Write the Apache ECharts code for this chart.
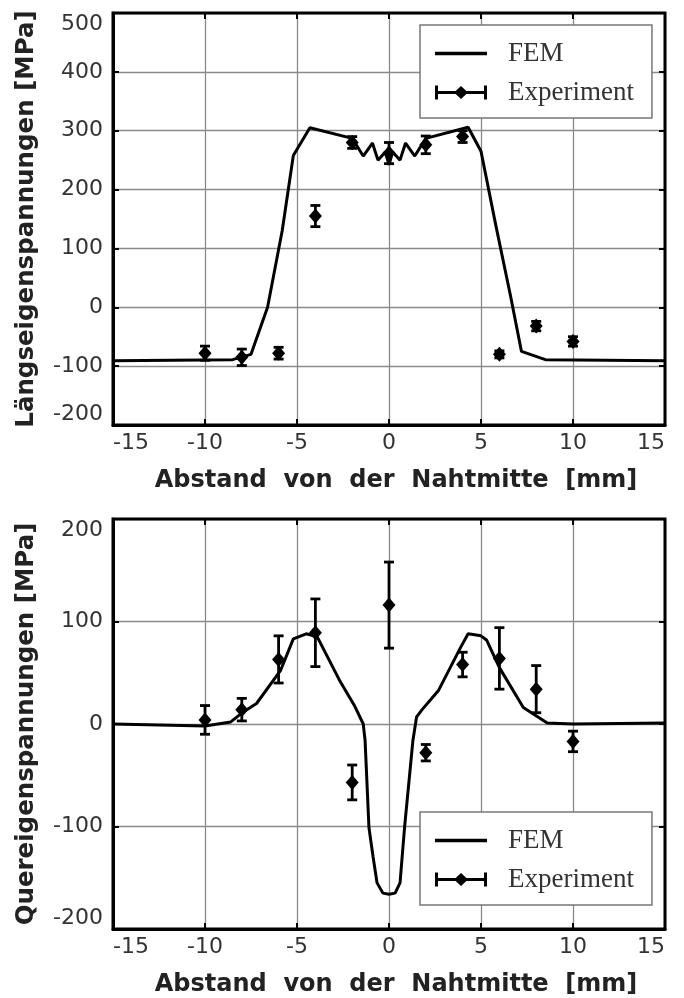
<!DOCTYPE html>
<html>
<head>
<meta charset="utf-8">
<script src="https://cdn.jsdelivr.net/npm/echarts@6/dist/echarts.min.js"></script>
<style>
	html, body { margin: 0; padding: 0; background: #fff; }
	#chart { width: 684px; height: 998px; }
</style>
</head>
<body>
<div id="chart"></div>
<script>
// FEM Längsspannungen
let femTopX = [-15, -8.5, -7.5, -6.6, -5.8, -5.2, -4.3, -2.0, -1.4, -0.9, -0.6, -0.2, 0, 0.2, 0.6, 0.9, 1.4, 2.0, 4.3, 5.0, 5.8, 6.6, 7.2, 8.5, 15];
let femTopY = [-91, -89, -80, 0, 131, 258, 305, 287, 257, 279, 250, 264, 242, 264, 250, 279, 257, 287, 306, 265, 140, 20, -75, -89, -91];

// Messwerte Längsspannungen
let expTopX = [-10, -8, -6, -4, -2, 0, 2, 4, 6, 8, 10];
let expTopY = [-78, -85, -78, 155, 280, 262, 276, 290, -80, -32, -58];
let expTopErr = [12, 14, 10, 18, 10, 18, 15, 10, 6, 8, 8];

// FEM Querspannungen
let femBotX = [-15, -10, -8.6, -7.9, -7.2, -5.9, -5.2, -4.5, -3.9, -2.7, -1.85, -1.4, -1.3, -1.09, -0.87, -0.65, -0.33, 0, 0.33, 0.6, 0.85, 1.3, 1.5, 1.8, 2.7, 3.9, 4.3, 5.0, 5.3, 6.0, 7.3, 8.6, 10, 15];
let femBotY = [0, -2, 2, 12, 20, 52, 83, 88, 85, 43, 17, 0, -16, -101, -129, -155, -165, -166, -165, -155, -100, -16, 7, 14, 33, 75, 88, 86, 82, 55, 16, 1, 0, 1];

// Messwerte Querspannungen
let expBotX = [-10, -8, -6, -4, -2, 0, 2, 4, 6, 8, 10];
let expBotY = [4, 14, 63, 89, -57, 116, -28, 58, 64, 34, -17];
let expBotErr = [14, 11, 23, 33, 17, 42, 8, 12, 30, 23, 10];

let chart = echarts.init(document.getElementById("chart"));

let labelFont = "DejaVu Sans";
let iconFem = "path://M0,0 L0.01,0 M0,5.3 L52,5.3 L52,8.7 L0,8.7 Z M52,14 L51.99,14";
let iconExp = "path://M0,0 L3,0 L3,14 L0,14 Z M49,0 L52,0 L52,14 L49,14 Z M0,5.5 L52,5.5 L52,8.5 L0,8.5 Z M26,0.5 L33,7 L26,13.5 L19,7 Z";

function pairs(xs, ys) {
	return xs.map(function(x, i) { return [x, ys[i]]; });
}
function bars(xs, ys, es) {
	return xs.map(function(x, i) { return [x, ys[i] - es[i], ys[i] + es[i]]; });
}

function errorBar(params, api) {
	let x = api.value(0);
	let lo = api.coord([x, api.value(1)]);
	let hi = api.coord([x, api.value(2)]);
	let w = 5;
	let st = { stroke: "#000", lineWidth: 2.8 };
	return {
		type: "group",
		children: [
			{ type: "line", shape: { x1: lo[0], y1: lo[1], x2: hi[0], y2: hi[1] }, style: st },
			{ type: "line", shape: { x1: lo[0] - w, y1: lo[1], x2: lo[0] + w, y2: lo[1] }, style: st },
			{ type: "line", shape: { x1: hi[0] - w, y1: hi[1], x2: hi[0] + w, y2: hi[1] }, style: st }
		]
	};
}

let tickStyle = { inside: true, length: 6, lineStyle: { color: "#000", width: 2 } };
let gridLine = { show: true, lineStyle: { color: "#8a8a8a", width: 1.3 } };

function xAxisFor(idx) {
	return {
		type: "value", gridIndex: idx, min: -15, max: 15, interval: 5,
		name: "Abstand  von  der  Nahtmitte  [mm]",
		nameLocation: "middle", nameGap: 44,
		nameTextStyle: { fontFamily: labelFont, fontWeight: "bold", fontSize: 24, color: "#222", padding: [0, 0, 0, 14] },
		axisLine: { onZero: false, lineStyle: { color: "#000", width: 3 } },
		axisTick: tickStyle,
		axisLabel: { fontFamily: labelFont, fontSize: 22, color: "#333", margin: 7,
			alignMinLabel: "left", alignMaxLabel: "right" },
		splitLine: gridLine
	};
}
function yAxisFor(idx, min, max, name) {
	return {
		type: "value", gridIndex: idx, min: min, max: max, interval: 100,
		name: name, nameLocation: "middle", nameGap: 74,
		nameTextStyle: { fontFamily: labelFont, fontWeight: "bold", fontSize: 24.5, color: "#222" },
		axisLine: { onZero: false, lineStyle: { color: "#000", width: 3 } },
		axisTick: tickStyle,
		axisLabel: { fontFamily: labelFont, fontSize: 22, color: "#333", margin: 10,
			verticalAlignMinLabel: "bottom", verticalAlignMaxLabel: "top" },
		splitLine: gridLine
	};
}
function mirrorX(idx) {
	return { type: "value", gridIndex: idx, min: -15, max: 15, interval: 5, position: "top",
		axisLine: { show: false, onZero: false }, axisLabel: { show: false }, splitLine: { show: false },
		axisTick: tickStyle };
}
function mirrorY(idx, min, max) {
	return { type: "value", gridIndex: idx, min: min, max: max, interval: 100, position: "right",
		axisLine: { show: false, onZero: false }, axisLabel: { show: false }, splitLine: { show: false },
		axisTick: tickStyle };
}
function legendFor(top) {
	return {
		orient: "vertical", left: 420, top: top, width: 200,
		padding: [15, 18, 12, 15], itemGap: 12,
		itemWidth: 52, itemHeight: 14,
		backgroundColor: "#fff", borderColor: "#777", borderWidth: 1.5,
		textStyle: { fontFamily: "Liberation Serif", fontSize: 27, color: "#333", padding: [0, 0, 0, 16] },
		data: [
			{ name: "FEM", icon: iconFem, itemStyle: { color: "#000", borderWidth: 0 } },
			{ name: "Experiment", icon: iconExp, itemStyle: { color: "#000", borderWidth: 0 } }
		]
	};
}

let option = {
	animation: false,
	grid: [
		{ left: 113, top: 13, width: 552, height: 412, show: true, borderColor: "#000", borderWidth: 3, z: 3 },
		{ left: 113, top: 519, width: 552, height: 413, show: true, borderColor: "#000", borderWidth: 3, z: 3 }
	],
	legend: [legendFor(25), legendFor(812)],
	xAxis: [xAxisFor(0), xAxisFor(1), mirrorX(0), mirrorX(1)],
	yAxis: [
		yAxisFor(0, -200, 500, "Längseigenspannungen [MPa]"),
		yAxisFor(1, -200, 200, "Quereigenspannungen [MPa]"),
		mirrorY(0, -200, 500),
		mirrorY(1, -200, 200)
	],
	series: [
		{ name: "FEM", type: "line", xAxisIndex: 0, yAxisIndex: 0, data: pairs(femTopX, femTopY),
			showSymbol: false, symbol: "none", lineStyle: { color: "#000", width: 3 }, itemStyle: { color: "#000" } },
		{ name: "Experiment", type: "custom", xAxisIndex: 0, yAxisIndex: 0, renderItem: errorBar,
			data: bars(expTopX, expTopY, expTopErr), encode: { x: 0, y: [1, 2] }, itemStyle: { color: "#000" } },
		{ name: "Experiment", type: "scatter", xAxisIndex: 0, yAxisIndex: 0, data: pairs(expTopX, expTopY),
			symbol: "diamond", symbolSize: [13, 15], itemStyle: { color: "#000", opacity: 1 } },
		{ name: "FEM", type: "line", xAxisIndex: 1, yAxisIndex: 1, data: pairs(femBotX, femBotY),
			showSymbol: false, symbol: "none", lineStyle: { color: "#000", width: 3 }, itemStyle: { color: "#000" } },
		{ name: "Experiment", type: "custom", xAxisIndex: 1, yAxisIndex: 1, renderItem: errorBar,
			data: bars(expBotX, expBotY, expBotErr), encode: { x: 0, y: [1, 2] }, itemStyle: { color: "#000" } },
		{ name: "Experiment", type: "scatter", xAxisIndex: 1, yAxisIndex: 1, data: pairs(expBotX, expBotY),
			symbol: "diamond", symbolSize: [13, 15], itemStyle: { color: "#000", opacity: 1 } }
	]
};
chart.setOption(option);
</script>
</body>
</html>
